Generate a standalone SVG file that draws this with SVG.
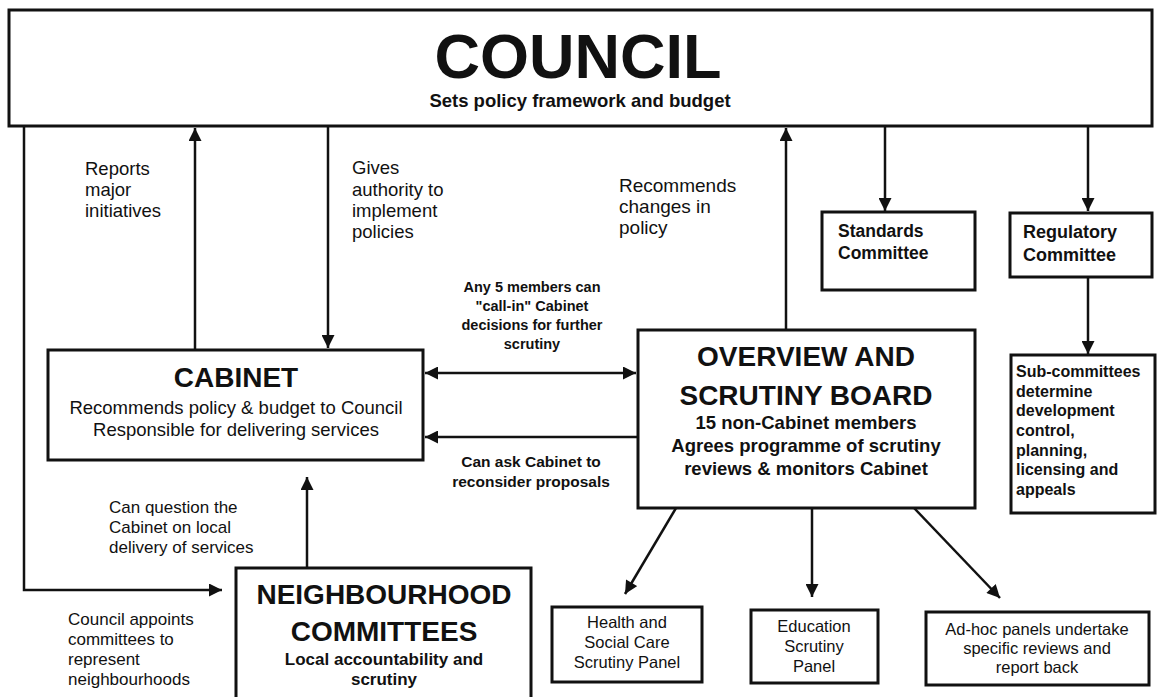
<svg xmlns="http://www.w3.org/2000/svg" width="1157" height="697" viewBox="0 0 1157 697">
<style>
.box{fill:#fff;stroke:#111;stroke-width:3}
.con{fill:none;stroke:#111;stroke-width:2.5}
text{font-family:"Liberation Sans",Arial,sans-serif;fill:#111}
.b{font-weight:bold}
.m{text-anchor:middle}
</style>
<defs>
<marker id="ah" viewBox="0 0 10 10" refX="10" refY="5" markerWidth="14" markerHeight="13" markerUnits="userSpaceOnUse" orient="auto-start-reverse">
<path d="M0,0 L10,5 L0,10 z" fill="#111"/>
</marker>
</defs>
<rect width="1157" height="697" fill="#fff"/>

<g id="connectors">
<polyline class="con" points="24,126 24,590 222,590" marker-end="url(#ah)"/>
<line class="con" x1="195" y1="350" x2="195" y2="128" marker-end="url(#ah)"/>
<line class="con" x1="328" y1="126" x2="328" y2="348" marker-end="url(#ah)"/>
<line class="con" x1="786" y1="330" x2="786" y2="128" marker-end="url(#ah)"/>
<line class="con" x1="885" y1="126" x2="885" y2="211" marker-end="url(#ah)"/>
<line class="con" x1="1088" y1="126" x2="1088" y2="211" marker-end="url(#ah)"/>
<line class="con" x1="1088" y1="277" x2="1088" y2="354" marker-end="url(#ah)"/>
<line class="con" x1="425" y1="373" x2="636" y2="373" marker-start="url(#ah)" marker-end="url(#ah)"/>
<line class="con" x1="638" y1="437" x2="425" y2="437" marker-end="url(#ah)"/>
<line class="con" x1="307" y1="567" x2="307" y2="477" marker-end="url(#ah)"/>
<line class="con" x1="676" y1="508" x2="625" y2="594" marker-end="url(#ah)"/>
<line class="con" x1="812" y1="508" x2="812" y2="597" marker-end="url(#ah)"/>
<line class="con" x1="914" y1="508" x2="1000" y2="598" marker-end="url(#ah)"/>
</g>

<g id="labels">
<text x="85" y="175" font-size="18.5">Reports</text>
<text x="85" y="196" font-size="18.5">major</text>
<text x="85" y="217" font-size="18.5">initiatives</text>
<text x="352" y="174" font-size="18.5">Gives</text>
<text x="352" y="196" font-size="18.5">authority to</text>
<text x="352" y="217" font-size="18.5">implement</text>
<text x="352" y="238" font-size="18.5">policies</text>
<text x="619" y="192" font-size="19">Recommends</text>
<text x="619" y="213" font-size="19">changes in</text>
<text x="619" y="234" font-size="19">policy</text>
<text class="b m" x="532" y="292" font-size="14.5">Any 5 members can</text>
<text class="b m" x="532" y="311" font-size="14.5">"call-in" Cabinet</text>
<text class="b m" x="532" y="330" font-size="14.5">decisions for further</text>
<text class="b m" x="532" y="349" font-size="14.5">scrutiny</text>
<text class="b m" x="531" y="467" font-size="15.5">Can ask Cabinet to</text>
<text class="b m" x="531" y="487" font-size="15.5">reconsider proposals</text>
<text x="109" y="513" font-size="17">Can question the</text>
<text x="109" y="533" font-size="17">Cabinet on local</text>
<text x="109" y="553" font-size="17">delivery of services</text>
<text x="68" y="625" font-size="17">Council appoints</text>
<text x="68" y="645" font-size="17">committees to</text>
<text x="68" y="665" font-size="17">represent</text>
<text x="68" y="685" font-size="17">neighbourhoods</text>
</g>

<g id="council">
<rect class="box" x="9" y="10" width="1143" height="116"/>
<text class="b m" x="578" y="78" font-size="63">COUNCIL</text>
<text class="b m" x="580" y="107" font-size="18.5">Sets policy framework and budget</text>
</g>

<g id="standards">
<rect class="box" x="822" y="212" width="153" height="78"/>
<text class="b" x="838" y="237" font-size="17.5">Standards</text>
<text class="b" x="838" y="259" font-size="17.5">Committee</text>
</g>

<g id="regulatory">
<rect class="box" x="1010" y="213" width="142" height="64"/>
<text class="b" x="1023" y="238" font-size="18">Regulatory</text>
<text class="b" x="1023" y="261" font-size="18">Committee</text>
</g>

<g id="subcommittees">
<rect class="box" x="1011" y="355" width="144" height="158"/>
<text class="b" x="1016" y="377" font-size="16">Sub-committees</text>
<text class="b" x="1016" y="397" font-size="16">determine</text>
<text class="b" x="1016" y="416" font-size="16">development</text>
<text class="b" x="1016" y="436" font-size="16">control,</text>
<text class="b" x="1016" y="456" font-size="16">planning,</text>
<text class="b" x="1016" y="475" font-size="16">licensing and</text>
<text class="b" x="1016" y="495" font-size="16">appeals</text>
</g>

<g id="cabinet">
<rect class="box" x="48" y="350" width="375" height="110"/>
<text class="b m" x="236" y="387" font-size="28">CABINET</text>
<text class="m" x="236" y="414" font-size="18.5">Recommends policy &amp; budget to Council</text>
<text class="m" x="236" y="436" font-size="18.5">Responsible for delivering services</text>
</g>

<g id="osb">
<rect class="box" x="638" y="330" width="337" height="178"/>
<text class="b m" x="806" y="366" font-size="28">OVERVIEW AND</text>
<text class="b m" x="806" y="405" font-size="28">SCRUTINY BOARD</text>
<text class="b m" x="806" y="429" font-size="18.5">15 non-Cabinet members</text>
<text class="b m" x="806" y="452" font-size="18.5">Agrees programme of scrutiny</text>
<text class="b m" x="806" y="475" font-size="18.5">reviews &amp; monitors Cabinet</text>
</g>

<g id="neighbourhood">
<rect class="box" x="236" y="568" width="295" height="140"/>
<text class="b m" x="384" y="604" font-size="28">NEIGHBOURHOOD</text>
<text class="b m" x="384" y="641" font-size="28">COMMITTEES</text>
<text class="b m" x="384" y="665" font-size="17">Local accountability and</text>
<text class="b m" x="384" y="685" font-size="17">scrutiny</text>
</g>

<g id="health">
<rect class="box" x="552" y="607" width="150" height="75"/>
<text class="m" x="627" y="628" font-size="16.5">Health and</text>
<text class="m" x="627" y="648" font-size="16.5">Social Care</text>
<text class="m" x="627" y="668" font-size="16.5">Scrutiny Panel</text>
</g>

<g id="education">
<rect class="box" x="751" y="610" width="127" height="73"/>
<text class="m" x="814" y="632" font-size="16.5">Education</text>
<text class="m" x="814" y="652" font-size="16.5">Scrutiny</text>
<text class="m" x="814" y="672" font-size="16.5">Panel</text>
</g>

<g id="adhoc">
<rect class="box" x="926" y="612" width="223" height="73"/>
<text class="m" x="1037" y="635" font-size="16.5">Ad-hoc panels undertake</text>
<text class="m" x="1037" y="654" font-size="16.5">specific reviews and</text>
<text class="m" x="1037" y="673" font-size="16.5">report back</text>
</g>
</svg>
